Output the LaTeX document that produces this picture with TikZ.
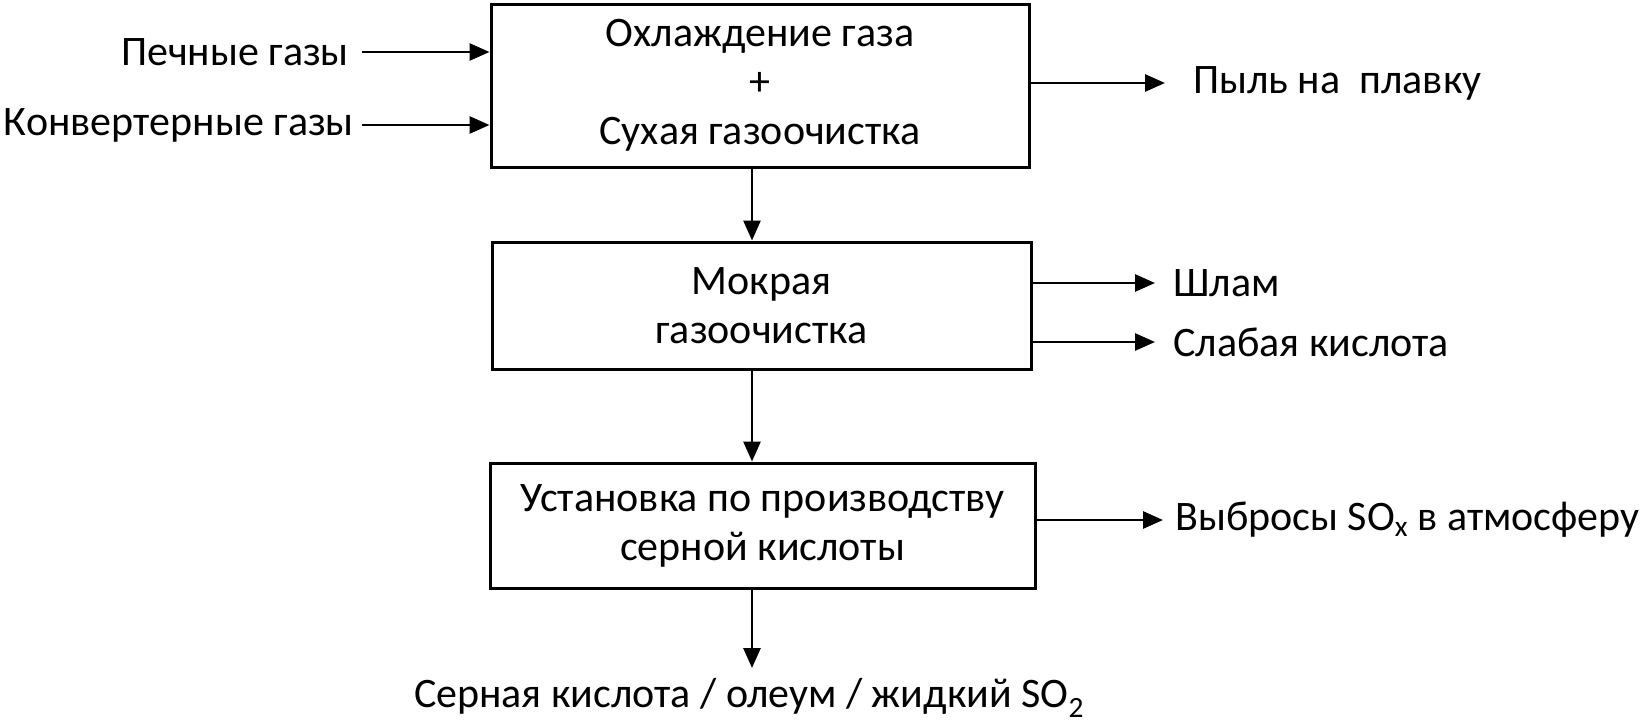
\documentclass[tikz,border=0pt]{standalone}
\usepackage{fontspec}
\setmainfont{Carlito}
\usetikzlibrary{arrows.meta}
\begin{document}
\begin{tikzpicture}[x=1pt,y=-1pt,
  procbox/.style={draw, line width=3pt, align=center, inner sep=0pt, font=\fontsize{42}{49}\selectfont},
  lbl/.style={inner sep=0pt, font=\fontsize{42}{49}\selectfont},
  flow/.style={line width=2.8pt, -{Triangle[length=20pt,width=17pt]}}]
\useasboundingbox (0,0) rectangle (1646,723);
% process boxes
\node[procbox, minimum width=538pt, minimum height=163pt] (b1) at (760,85.5) {Охлаждение газа\\+\\Сухая газоочистка};
\node[procbox, minimum width=539pt, minimum height=127pt] (b2) at (761.5,305.5) {Мокрая\\газоочистка};
\node[procbox, minimum width=545pt, minimum height=125pt] (b3) at (762.5,525.5) {Установка по производству\\серной кислоты};
% inputs
\node[lbl, anchor=east] (in1) at (349,52) {Печные газы};
\node[lbl, anchor=east] (in2) at (354,125) {Конвертерные газы};
\coordinate (i1) at (362,52);
\coordinate (i2) at (362,125);
\draw[flow] (i1) -- (i1 -| b1.west);
\draw[flow] (i2) -- (i2 -| b1.west);
% outputs
\coordinate (o1) at (1165,83);
\coordinate (o2) at (1155,283);
\coordinate (o3) at (1155,342);
\coordinate (o4) at (1163,520);
\draw[flow] (o1 -| b1.east) -- (o1);
\draw[flow] (o2 -| b2.east) -- (o2);
\draw[flow] (o3 -| b2.east) -- (o3);
\draw[flow] (o4 -| b3.east) -- (o4);
\node[lbl, anchor=west] (out1) at (1193,83) {Пыль на\ \ плавку};
\node[lbl, anchor=west] (out2) at (1173,283) {Шлам};
\node[lbl, anchor=west] (out3) at (1173,342) {Слабая кислота};
\node[lbl, anchor=west] (out4) at (1175,520) {Выбросы SO\textsubscript{x} в атмосферу};
% vertical flow
\coordinate (ax) at (752,0);
\draw[flow] (ax |- b1.south) -- (ax |- b2.north);
\draw[flow] (ax |- b2.south) -- (ax |- b3.north);
\coordinate (pend) at (752,668);
\draw[flow] (ax |- b3.south) -- (pend);
\node[lbl, anchor=base] (prod) at (749,707) {Серная кислота / олеум / жидкий SO\textsubscript{2}};
\end{tikzpicture}
\end{document}
